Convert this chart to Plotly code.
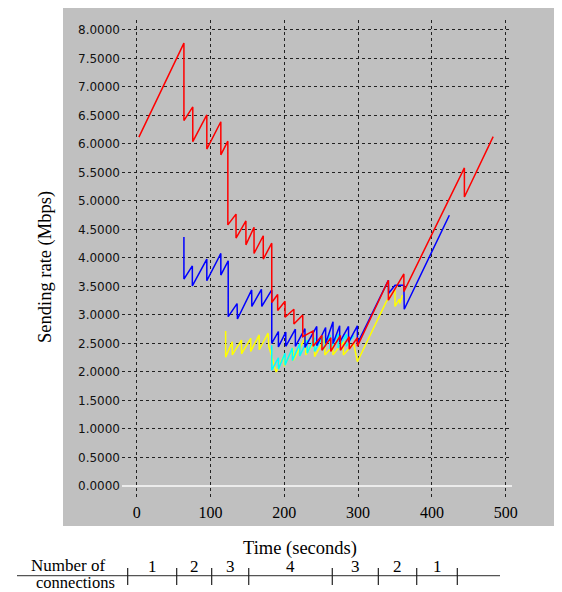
import plotly.graph_objects as go

# ---------------- data ----------------
red_t = [3, 64, 64, 76, 76, 95, 95, 114, 114, 123.5, 123.5, 134.6, 134.6, 148, 148,
         159, 159, 171.5, 171.5, 183, 183, 191, 191, 201, 201, 213, 213, 225, 225,
         239, 239, 251, 251, 263, 263, 276, 276, 288, 288, 299, 299, 341, 341, 362,
         362, 444, 444, 483]
red_v = [6.12, 7.77, 6.41, 6.65, 6.04, 6.51, 5.91, 6.39, 5.81, 6.05, 4.58, 4.77, 4.35, 4.65, 4.23,
         4.54, 4.08, 4.39, 3.98, 4.26, 3.22, 3.36, 3.08, 3.24, 2.96, 3.10, 2.84, 3.00, 2.62,
         2.72, 2.45, 2.64, 2.38, 2.60, 2.36, 2.64, 2.38, 2.62, 2.40, 2.60, 2.45, 3.61, 3.26, 3.72,
         3.41, 5.58, 5.07, 6.13]

blue_t = [64, 64, 75.4, 75.4, 95, 95, 114, 114, 124, 124, 136, 136.5, 155.8, 156, 169,
          169.5, 183, 183, 192, 192, 202, 202, 215, 215, 228, 228, 244, 244, 256, 256,
          266, 266, 275, 275, 287, 287, 299, 299, 341, 341.5, 350, 362, 362.5, 423.6]
blue_v = [4.37, 3.63, 3.86, 3.51, 3.98, 3.60, 4.08, 3.70, 3.95, 2.97, 3.20, 2.93, 3.44, 3.15, 3.45,
          3.15, 3.44, 2.50, 2.71, 2.44, 2.70, 2.45, 2.75, 2.45, 2.76, 2.43, 2.80, 2.46, 2.78, 2.50,
          2.88, 2.50, 2.81, 2.52, 2.80, 2.52, 2.81, 2.50, 3.61, 3.38, 3.52, 3.52, 3.10, 4.75]

yellow_t = [120.5, 120.5, 129.5, 129.5, 142, 142, 154.5, 154.5, 166, 166, 178, 179, 189,
            200, 200, 212, 212, 229, 229, 241, 241, 255, 255, 266, 266, 280, 280, 294, 299,
            338, 350, 350, 356, 356.5, 360]
yellow_v = [2.72, 2.26, 2.53, 2.30, 2.56, 2.32, 2.59, 2.36, 2.65, 2.39, 2.68, 2.45, 2.00,
            2.30, 2.10, 2.42, 2.20, 2.62, 2.30, 2.53, 2.27, 2.59, 2.30, 2.46, 2.30, 2.53, 2.30, 2.50, 2.18,
            3.23, 3.44, 3.15, 3.28, 3.20, 3.35]

cyan_t = [183, 183, 192, 192, 201, 201, 211, 211, 221, 221, 231, 231, 241, 241, 252, 252,
          262, 262, 273, 273, 284, 284, 294]
cyan_v = [2.47, 2.03, 2.25, 2.05, 2.33, 2.12, 2.42, 2.20, 2.50, 2.28, 2.56, 2.33, 2.60, 2.36,
          2.62, 2.38, 2.65, 2.40, 2.66, 2.42, 2.66, 2.45, 2.64]

x_ticks = [0, 100, 200, 300, 400, 500]
y_ticks = [0, 0.5, 1, 1.5, 2, 2.5, 3, 3.5, 4, 4.5, 5, 5.5, 6, 6.5, 7, 7.5, 8]

conn_bounds = [-12.2, 54.2, 101.6, 151.8, 265.0, 327.4, 379.4, 434.4]
conn_counts = ["1", "2", "3", "4", "3", "2", "1"]

# ---------------- geometry ----------------
# the page places the figure 8px in from the top-left corner (body margin)
OFF = 8
W, H = 562 - OFF, 592 - OFF
L, T = 122 - OFF, 20 - OFF
R = W - (512 - OFF)
B = H - (500 - OFF)
PW, PH = W - L - R, H - T - B


def pxx(px):
    # px in window coordinates -> paper x
    return (px - OFF - L) / PW


def pxy(py):
    # py in window coordinates -> paper y
    return (H - B - (py - OFF)) / PH


fig = go.Figure()
for tx, vy, col in [(yellow_t, yellow_v, "#ffff00"), (cyan_t, cyan_v, "#00ffff"),
                    (blue_t, blue_v, "#0000ff"), (red_t, red_v, "#ff0000")]:
    fig.add_trace(go.Scatter(x=tx, y=vy, mode="lines", line=dict(color=col, width=1.5),
                             hoverinfo="skip", showlegend=False))

shapes = [
    dict(type="rect", xref="paper", yref="paper", x0=pxx(63), x1=pxx(562), y0=pxy(526), y1=pxy(8),
         fillcolor="#c0c0c0", line=dict(width=0), layer="below"),
    dict(type="line", xref="paper", yref="paper", x0=pxx(17), x1=pxx(500), y0=pxy(575.7), y1=pxy(575.7),
         line=dict(color="#555555", width=1.2)),
]
for b in conn_bounds:
    shapes.append(dict(type="line", xref="x", yref="paper", x0=b, x1=b, y0=pxy(568), y1=pxy(585),
                       line=dict(color="#222222", width=1.2)))

serif = "Liberation Serif"
annotations = [
    dict(text="Time (seconds)", xref="paper", yref="paper", x=pxx(300), y=pxy(548), showarrow=False,
         font=dict(family=serif, size=18.5, color="black"), xanchor="center", yanchor="middle"),
    dict(text="Sending rate (Mbps)", xref="paper", yref="paper", x=pxx(45), y=pxy(267), showarrow=False,
         textangle=-90, font=dict(family=serif, size=18.5, color="black"),
         xanchor="center", yanchor="middle"),
    dict(text="Number of", xref="paper", yref="paper", x=pxx(67.5), y=pxy(565), showarrow=False,
         font=dict(family=serif, size=17, color="black"), xanchor="center", yanchor="middle"),
    dict(text="connections", xref="paper", yref="paper", x=pxx(75.5), y=pxy(582), showarrow=False,
         font=dict(family=serif, size=16.5, color="black"), xanchor="center", yanchor="middle"),
]
for i, lab in enumerate(conn_counts):
    mid = (conn_bounds[i] + conn_bounds[i + 1]) / 2
    annotations.append(dict(text=lab, xref="x", yref="paper", x=mid, y=pxy(566.5), showarrow=False,
                            font=dict(family=serif, size=17, color="black"),
                            xanchor="center", yanchor="middle"))

fig.update_layout(
    width=W, height=H, margin=dict(l=L, r=R, t=T, b=B, pad=0),
    paper_bgcolor="white", plot_bgcolor="#c0c0c0",
    xaxis=dict(range=[-19.9, 508.5], tickvals=x_ticks, ticktext=[str(v) for v in x_ticks],
               showgrid=True, gridcolor="#222222", griddash="dot", gridwidth=1,
               zeroline=False, showline=False, ticks="", ticklabelstandoff=1,
               tickfont=dict(family=serif, size=16, color="black")),
    yaxis=dict(range=[-0.246, 8.175], tickvals=y_ticks, tickformat=".4f",
               showgrid=True, gridcolor="#222222", griddash="dot", gridwidth=1,
               zeroline=True, zerolinecolor="#ececec", zerolinewidth=2, showline=False,
               ticks="", ticklabelstandoff=1,
               tickfont=dict(family="DejaVu Sans", size=12, color="#111111")),
    shapes=shapes, annotations=annotations,
)

fig.write_html("out.html")
